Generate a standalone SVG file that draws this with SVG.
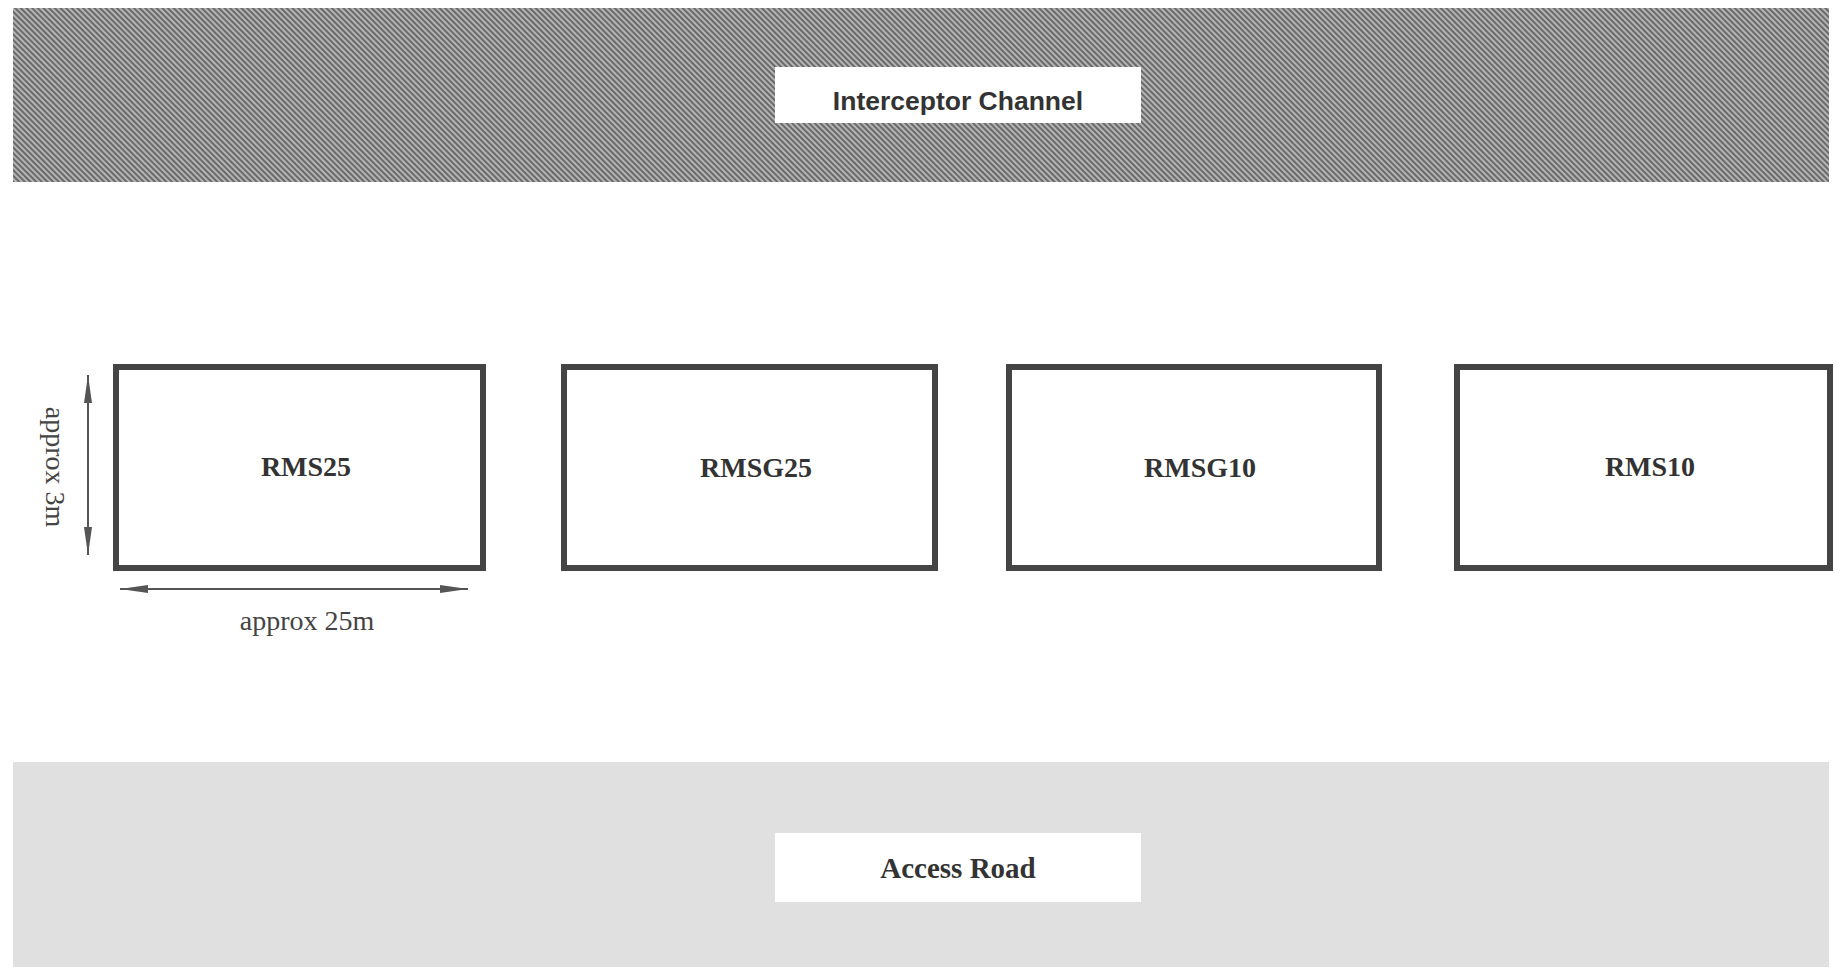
<svg xmlns="http://www.w3.org/2000/svg" width="1842" height="969" viewBox="0 0 1842 969">
<style>
.box{fill:#ffffff;stroke:#444444;stroke-width:6}
.lbl{font-family:"Liberation Serif","Times New Roman",serif;font-weight:bold;font-size:28px;fill:#333333;text-anchor:middle}
.dim{font-family:"Liberation Serif","Times New Roman",serif;font-size:28px;fill:#444444;text-anchor:middle}
.dimline{stroke:#555555;stroke-width:2;fill:none}
</style>
<defs>
<pattern id="hatch" width="4" height="4" patternUnits="userSpaceOnUse" patternTransform="rotate(-45)">
<rect width="4" height="4" fill="#b4b4b4"/>
<rect width="2" height="4" fill="#6a6a6a"/>
</pattern>
<marker id="ah" viewBox="0 0 28 10" refX="28" refY="5" markerWidth="28" markerHeight="10" markerUnits="userSpaceOnUse" orient="auto-start-reverse">
<path d="M0,1 L28,5 L0,9 Z" fill="#555555"/>
</marker>
</defs>
<rect width="1842" height="969" fill="#ffffff"/>
<g id="interceptor-channel">
<rect x="13" y="8" width="1816" height="174" fill="url(#hatch)"/>
<rect x="775" y="67" width="366" height="56" fill="#ffffff"/>
<text x="958" y="110" font-family="'Liberation Sans',Arial,sans-serif" font-weight="bold" font-size="26.5" fill="#333333" text-anchor="middle">Interceptor Channel</text>
</g>
<g id="access-road">
<rect x="13" y="762" width="1816" height="205" fill="#e0e0e0"/>
<rect x="775" y="833" width="366" height="69" fill="#ffffff"/>
<text class="lbl" x="958" y="878" style="font-size:29px">Access Road</text>
</g>
<g id="RMS25">
<rect class="box" x="116" y="367" width="367" height="201"/>
<text class="lbl" x="306" y="476">RMS25</text>
</g>
<g id="RMSG25">
<rect class="box" x="564" y="367" width="371" height="201"/>
<text class="lbl" x="756" y="477">RMSG25</text>
</g>
<g id="RMSG10">
<rect class="box" x="1009" y="367" width="370" height="201"/>
<text class="lbl" x="1200" y="477">RMSG10</text>
</g>
<g id="RMS10">
<rect class="box" x="1457" y="367" width="373" height="201"/>
<text class="lbl" x="1650" y="476">RMS10</text>
</g>
<g id="connectors">
<line class="dimline" x1="88" y1="375" x2="88" y2="555" marker-start="url(#ah)" marker-end="url(#ah)"/>
<line class="dimline" x1="120" y1="589" x2="468" y2="589" marker-start="url(#ah)" marker-end="url(#ah)"/>
</g>
<g id="dimension-labels">
<text class="dim" transform="translate(46,467) rotate(90)" x="0" y="0">approx 3m</text>
<text class="dim" x="307" y="630">approx 25m</text>
</g>
</svg>
